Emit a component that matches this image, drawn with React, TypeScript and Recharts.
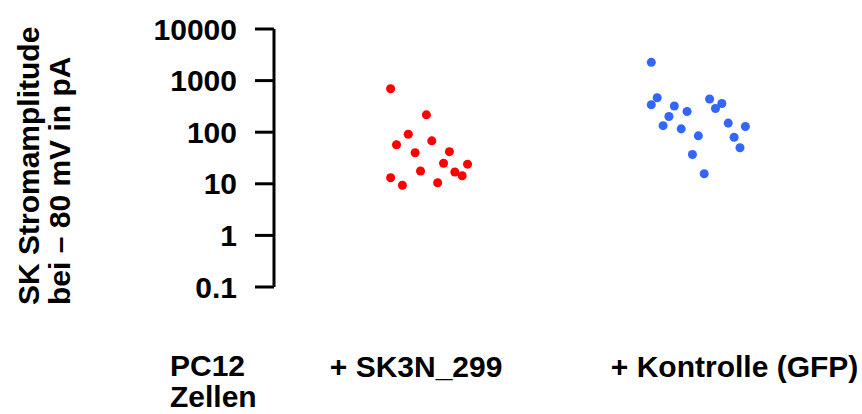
import { ScatterChart, Scatter, XAxis, YAxis } from "recharts";

document.body.style.margin = "0";

// log scale ticks
const yTicks = [0.1, 1, 10, 100, 1000, 10000];

// + SK3N_299 (red)
const sk3nX = [2.38, 3.11, 2.74, 2.5, 3.22, 2.88, 3.58, 3.46, 3.95, 2.99, 3.69, 3.84, 2.38, 2.62, 3.34];
const sk3nY = [695, 217, 91, 57, 68, 40, 42, 25, 24, 17.7, 16.9, 14.3, 13.1, 9.4, 10.5];

// + Kontrolle (GFP) (blue)
const gfpX = [7.7, 7.82, 7.7, 8.17, 8.43, 8.06, 7.94, 8.31, 8.66, 8.54, 8.78, 8.89, 9.14, 9.01, 9.27, 9.62, 9.39, 9.51];
const gfpY = [2260, 465, 340, 321, 252, 201, 134, 116, 85, 37, 15.7, 439, 360, 288, 150, 129, 80, 50];

const groupTicks = [2.9, 9.4];
const groupLabels = ["+ SK3N_299", "+ Kontrolle (GFP)"];
const cellLabel = ["PC12", "Zellen"];
const yTitle = ["SK Stromamplitude", "bei – 80 mV in pA"];

const sk3n = sk3nX.map((x, i) => ({ x, y: sk3nY[i] }));
const gfp = gfpX.map((x, i) => ({ x, y: gfpY[i] }));

const font = {
  fontFamily: "'Liberation Sans', Arial, sans-serif",
  fontWeight: "bold" as const,
  fontSize: 30,
  fill: "#000",
};

function GroupTick(props: any) {
  const { x, y, payload } = props;
  const i = groupTicks.indexOf(payload.value);
  return (
    <text x={x} y={y + 82} textAnchor="middle" {...font}>
      {groupLabels[i]}
    </text>
  );
}

function CellLabel(props: any) {
  const vb = props.viewBox || { x: 274 };
  const x = vb.x - 104;
  return (
    <text x={x} y={376} {...font}>
      <tspan x={x}>{cellLabel[0]}</tspan>
      <tspan x={x} dy={31}>{cellLabel[1]}</tspan>
    </text>
  );
}

function YTitle() {
  return (
    <text transform="translate(38.5,305) rotate(-90)" {...font}>
      <tspan x={0}>{yTitle[0]}</tspan>
      <tspan x={0} dy={31.5}>{yTitle[1]}</tspan>
    </text>
  );
}

export default function App() {
  return (
    <ScatterChart width={862} height={414} margin={{ top: 29, right: 0, bottom: 0, left: 0 }}>
      <XAxis
        type="number"
        dataKey="x"
        domain={[0, 12]}
        ticks={groupTicks}
        interval={0}
        axisLine={false}
        tickLine={false}
        height={127}
        tick={<GroupTick />}
        label={CellLabel}
      />
      <YAxis
        type="number"
        dataKey="y"
        scale="log"
        domain={[0.1, 10000]}
        ticks={yTicks}
        interval={0}
        allowDataOverflow
        width={274}
        axisLine={{ stroke: "#000", strokeWidth: 3 }}
        tickLine={{ stroke: "#000", strokeWidth: 3 }}
        tickSize={19}
        tickMargin={18}
        tick={font}
        tickFormatter={(v: number) => String(v)}
        label={YTitle}
      />
      <Scatter data={sk3n} fill="#ff0000" isAnimationActive={false} />
      <Scatter data={gfp} fill="#3366ff" isAnimationActive={false} />
    </ScatterChart>
  );
}
